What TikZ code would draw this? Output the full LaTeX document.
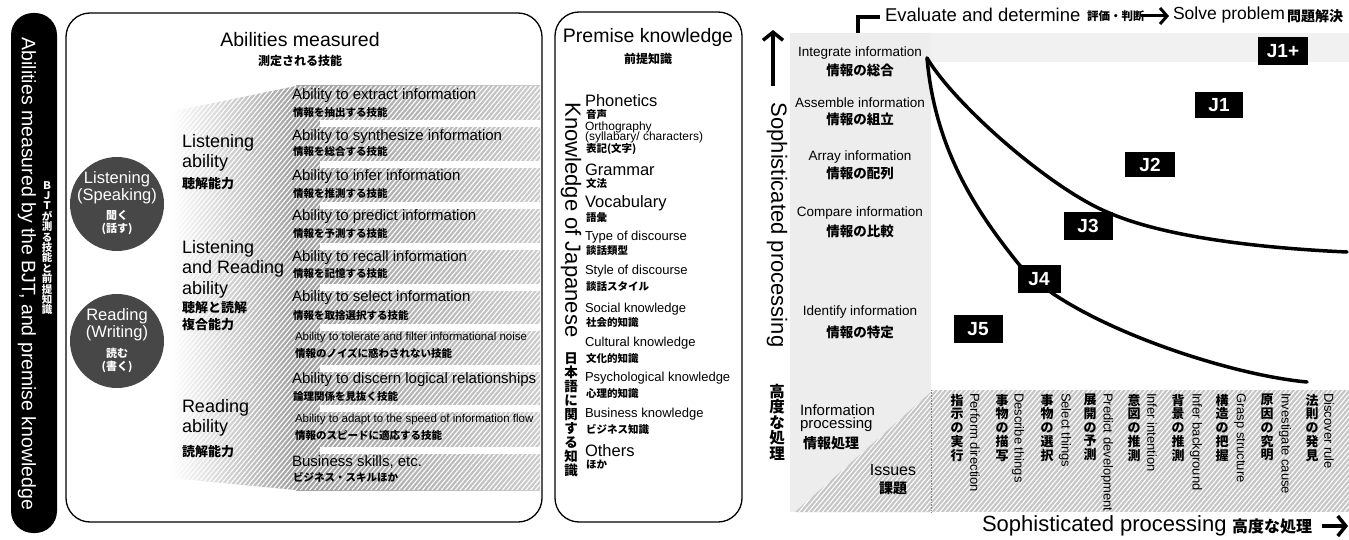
\documentclass[tikz,border=0pt]{standalone}
\usepackage{fontspec}
\setmainfont{Liberation Sans}
\newfontfamily\jp{Noto Sans CJK JP}
\usetikzlibrary{arrows.meta,patterns.meta}
\newcommand\fz[2]{\fontsize{#1}{#2}\selectfont}
\begin{document}
\begin{tikzpicture}[x=1pt,y=-1pt,
  every node/.style={inner sep=0pt,outer sep=0pt},
  boxline/.style={line width=1.3pt, rounded corners=24pt},
  abil/.style={anchor=west, font=\fz{15}{15}},
  abils/.style={anchor=west, font=\fz{11.5}{11.5}},
  abiljp/.style={anchor=west, font=\jp\bfseries\fz{10.5}{10.5}},
  cat/.style={anchor=west, font=\fz{18}{18}},
  catjp/.style={anchor=west, font=\jp\bfseries\fz{13}{13}},
  pbig/.style={anchor=west, font=\fz{16.5}{16.5}},
  pmid/.style={anchor=west, font=\fz{13}{13}},
  psm/.style={anchor=west, font=\fz{12}{12}},
  pjp/.style={anchor=west, font=\jp\bfseries\fz{10.5}{10.5}},
  rowen/.style={font=\fz{13.5}{13.5}},
  rowjp/.style={font=\jp\bfseries\fz{13.5}{13.5}},
  colen/.style={rotate=-90, anchor=west, font=\fz{13}{13}},
  coljp/.style={anchor=north, align=center, font=\jp\bfseries\fz{13}{13.8}},
  jbox/.style={fill=black, text=white, font=\bfseries\fz{19}{19}, minimum height=27pt, minimum width=48pt},
  curve/.style={line width=3.5pt, line cap=round},
  thickarrow/.style={line width=3.5pt, -{Straight Barb[length=8pt,width=20pt]}},
  hatch/.style={pattern={Lines[angle=50,distance=3.6pt,line width=1.1pt]}, pattern color=white},
  circ/.style={circle, fill=black!72, minimum size=94pt},
]
\useasboundingbox (0,0) rectangle (1349,540);
\fill[white] (0,0) rectangle (1349,540);

% ---------- left black bar ----------
\fill[black, rounded corners=22pt] (11,13) rectangle (57,533);
\node[rotate=-90, text=white, font=\fz{19.5}{20}] (bartext) at (27,274) {Abilities measured by the BJT, and premise knowledge};
\node[text=white, align=center, font=\jp\bfseries\fz{10.5}{10.4}] (barjp) at (47,248) {Ｂ\\Ｊ\\Ｔ\\が\\測\\る\\技\\能\\と\\前\\提\\知\\識};

% ---------- abilities box ----------
\draw[boxline] (66,13) rectangle (542,522);
\node[font=\fz{19.5}{20}] (abt) at (300,40) {Abilities measured};
\node[font=\jp\bfseries\fz{12}{12}] (abj) at (300,61) {測定される技能};

% hatched fan and bars
\shade[left color=white, right color=gray!75] (170,112) -- (296,86) -- (296,490) -- (170,478) -- cycle;
\shade[left color=gray!75, right color=gray!40] (296,86) rectangle (540,490);
\fill[hatch] (170,112) -- (296,86) -- (540,86) -- (540,490) -- (296,490) -- (170,478) -- cycle;
\foreach \g in {124,165,206,246,287,327,368,408,450}
  \fill[white] (320,\g-3.5) rectangle (541,\g+3.5);

% circles
\node[circ] (lcirc) at (117,204) {};
\node[text=white, align=center, font=\fz{16.5}{17}] (lcen) at (117,188) {Listening\\(Speaking)};
\node[text=white, align=center, font=\jp\bfseries\fz{11}{13}] (lcjp) at (117,223) {聞く\\(話す)};
\node[circ] (rcirc) at (117,341) {};
\node[text=white, align=center, font=\fz{16.5}{17}] (rcen) at (117,325) {Reading\\(Writing)};
\node[text=white, align=center, font=\jp\bfseries\fz{11}{13}] (rcjp) at (117,360) {読む\\(書く)};

% categories
\node[cat] (c1a) at (182,143) {Listening};
\node[cat] (c1b) at (182,163) {ability};
\node[catjp] (c1j) at (182,184) {聴解能力};
\node[cat] (c2a) at (182,249) {Listening};
\node[cat] (c2b) at (182,269) {and Reading};
\node[cat] (c2c) at (182,290) {ability};
\node[catjp] (c2j) at (182,308) {聴解と読解};
\node[catjp] (c2k) at (182,325) {複合能力};
\node[cat] (c3a) at (182,408) {Reading};
\node[cat] (c3b) at (182,428) {ability};
\node[catjp] (c3j) at (182,452) {読解能力};

% abilities
\node[abil] (a1) at (292,96) {Ability to extract information};
\node[abiljp] (a1j) at (293,112) {情報を抽出する技能};
\node[abil] (a2) at (292,137) {Ability to synthesize information};
\node[abiljp] (a2j) at (293,151) {情報を総合する技能};
\node[abil] (a3) at (292,177) {Ability to infer information};
\node[abiljp] (a3j) at (293,193) {情報を推測する技能};
\node[abil] (a4) at (292,217) {Ability to predict information};
\node[abiljp] (a4j) at (293,233) {情報を予測する技能};
\node[abil] (a5) at (292,258) {Ability to recall information};
\node[abiljp] (a5j) at (293,273) {情報を記憶する技能};
\node[abil] (a6) at (292,298) {Ability to select information};
\node[abiljp] (a6j) at (293,315) {情報を取捨選択する技能};
\node[abils] (a7) at (295,338) {Ability to tolerate and filter informational noise};
\node[abiljp] (a7j) at (295,353) {情報のノイズに惑わされない技能};
\node[abil] (a8) at (292,380) {Ability to discern logical relationships};
\node[abiljp] (a8j) at (293,397) {論理関係を見抜く技能};
\node[abils] (a9) at (295,420) {Ability to adapt to the speed of information flow};
\node[abiljp] (a9j) at (295,435) {情報のスピードに適応する技能};
\node[abil] (a10) at (292,462) {Business skills, etc.};
\node[abiljp] (a10j) at (293,477) {ビジネス・スキルほか};

% ---------- premise knowledge box ----------
\draw[boxline] (555,12) rectangle (742,522);
\node[font=\fz{19.5}{20}] (pkt) at (648,37) {Premise knowledge};
\node[font=\jp\bfseries\fz{12}{12}] (pkj) at (648,59) {前提知識};
\node[rotate=-90, font=\fz{22}{22}] (kojen) at (571,220) {Knowledge of Japanese};
\node[align=center, font=\jp\bfseries\fz{13.5}{14}] (kojjp) at (571,415) {日\\本\\語\\に\\関\\す\\る\\知\\識};

\node[pbig] (p1) at (585,101) {Phonetics};
\node[pjp] (p1j) at (586,115) {音声};
\node[psm] (p2) at (585,127) {Orthography};
\node[psm] (p2b) at (585,137) {(syllabary/ characters)};
\node[pjp] (p2j) at (586,149) {表記(文字)};
\node[pbig] (p3) at (585,170) {Grammar};
\node[pjp] (p3j) at (586,184) {文法};
\node[pbig] (p4) at (585,203) {Vocabulary};
\node[pjp] (p4j) at (586,218) {語彙};
\node[pmid] (p5) at (585,237) {Type of discourse};
\node[pjp] (p5j) at (586,251) {談話類型};
\node[pmid] (p6) at (585,271) {Style of discourse};
\node[pjp] (p6j) at (586,287) {談話スタイル};
\node[pmid] (p7) at (585,309) {Social knowledge};
\node[pjp] (p7j) at (586,323) {社会的知識};
\node[pmid] (p8) at (585,343) {Cultural knowledge};
\node[pjp] (p8j) at (586,359) {文化的知識};
\node[pmid] (p9) at (585,378) {Psychological knowledge};
\node[pjp] (p9j) at (586,394) {心理的知識};
\node[pmid] (p10) at (585,414) {Business knowledge};
\node[pjp] (p10j) at (586,429) {ビジネス知識};
\node[pbig] (p11) at (585,451) {Others};
\node[pjp] (p11j) at (586,465) {ほか};

% ---------- right chart ----------
\fill[gray!11] (790,33) rectangle (1349,62);
\fill[gray!14] (790,33) rectangle (931,512);
\fill[gray!45] (932,390) rectangle (1349,512);
\fill[gray!45] (931,392) -- (931,512) -- (795,512) -- cycle;
\fill[hatch] (932,390) rectangle (1349,512);
\fill[hatch] (931,392) -- (931,512) -- (795,512) -- cycle;
\draw[gray, densely dotted, line width=0.6pt] (931.5,390) -- (931.5,512);

% vertical axis
\coordinate (uatail) at (773,86);
\coordinate (uahead) at (773,30);
\draw[thickarrow] (uatail) -- (uahead);
\node[rotate=-90, font=\fz{22}{22}] (vaxis) at (777,225) {Sophisticated processing};
\node[align=center, font=\jp\bfseries\fz{15.5}{15.5}] (vaxjp) at (777,422) {高\\度\\な\\処\\理};

% top line
\coordinate (br1) at (858,33);
\coordinate (br2) at (858,17.5);
\coordinate (br3) at (880,17.5);
\draw[line width=4pt] (br1) -- (br2) -- (br3);
\node[anchor=west, font=\fz{18.5}{18.5}] (evd) at (885,15) {Evaluate and determine};
\node[anchor=west, font=\jp\bfseries\fz{11.5}{11.5}] (evj) at (1087,16.5) {評価・判断};
\coordinate (ta1) at (1141,16);
\coordinate (ta2) at (1169,16);
\draw[line width=3pt, -{Straight Barb[length=7pt,width=16pt]}] (ta1) -- (ta2);
\node[anchor=west, font=\fz{17.5}{17.5}] (solve) at (1173,15) {Solve problem};
\node[anchor=west, font=\jp\bfseries\fz{14}{14}] (solvej) at (1287,16.5) {問題解決};

% row labels
\node[rowen] (r1) at (860,53) {Integrate information};
\node[rowjp] (r1j) at (860,70) {情報の総合};
\node[rowen] (r2) at (860,103) {Assemble information};
\node[rowjp] (r2j) at (860,119) {情報の組立};
\node[rowen] (r3) at (860,157) {Array information};
\node[rowjp] (r3j) at (860,173) {情報の配列};
\node[rowen] (r4) at (860,213) {Compare information};
\node[rowjp] (r4j) at (860,231) {情報の比較};
\node[rowen] (r5) at (860,312) {Identify information};
\node[rowjp] (r5j) at (860,332) {情報の特定};
\node[anchor=west, font=\fz{15}{15}] (ip1) at (800,410) {Information};
\node[anchor=west, font=\fz{15}{15}] (ip2) at (800,425) {processing};
\node[anchor=west, font=\jp\bfseries\fz{14}{14}] (ipj) at (803,443) {情報処理};
\node[font=\fz{16}{16}] (iss) at (893,470) {Issues};
\node[font=\jp\bfseries\fz{14}{14}] (issj) at (893,488) {課題};

% curves
\coordinate (cs) at (927,58);
\coordinate (cu1) at (1107,212);
\coordinate (cu2) at (1347,252);
\coordinate (cl1) at (1017,262);
\coordinate (cl2) at (1307,382);
\draw[curve] (cs) .. controls (955,105) and (1050,188) .. (cu1)
                 .. controls (1170,240) and (1280,249) .. (cu2);
\draw[curve] (cs) .. controls (935,150) and (977,212) .. (cl1)
                 .. controls (1060,318) and (1220,374) .. (cl2);

% level boxes
\node[jbox, minimum width=50pt, minimum height=28pt] (j1p) at (1283,51) {J1+};
\node[jbox, minimum height=26pt] (j1) at (1219,105) {J1};
\node[jbox, minimum width=50pt, minimum height=25pt] (j2) at (1150,165) {J2};
\node[jbox, minimum width=49pt, minimum height=28pt] (j3) at (1088,226) {J3};
\node[jbox, minimum width=43pt, minimum height=28pt] (j4) at (1039,279) {J4};
\node[jbox, minimum width=49pt, minimum height=28pt] (j5) at (978,329) {J5};

% column labels
\node[coljp] (k1j) at (957,394) {指\\示\\の\\実\\行};
\node[colen] (k1) at (975,393) {Perform direction};
\node[coljp] (k2j) at (1002,394) {事\\物\\の\\描\\写};
\node[colen] (k2) at (1018,393) {Describe things};
\node[coljp] (k3j) at (1047,394) {事\\物\\の\\選\\択};
\node[colen] (k3) at (1065,393) {Select things};
\node[coljp] (k4j) at (1090,394) {展\\開\\の\\予\\測};
\node[colen] (k4) at (1107,393) {Predict development};
\node[coljp] (k5j) at (1134,394) {意\\図\\の\\推\\測};
\node[colen] (k5) at (1152,393) {Infer intention};
\node[coljp] (k6j) at (1178,394) {背\\景\\の\\推\\測};
\node[colen] (k6) at (1196,393) {Infer background};
\node[coljp] (k7j) at (1222,394) {構\\造\\の\\把\\握};
\node[colen] (k7) at (1240,393) {Grasp structure};
\node[coljp] (k8j) at (1267,394) {原\\因\\の\\究\\明};
\node[colen] (k8) at (1285,393) {Investigate cause};
\node[coljp] (k9j) at (1312,394) {法\\則\\の\\発\\見};
\node[colen] (k9) at (1329,393) {Discover rule};

% bottom axis
\node[anchor=west, font=\fz{22}{22}] (haxis) at (982,526) {Sophisticated processing};
\node[anchor=west, font=\jp\bfseries\fz{16}{16}] (haxj) at (1232,526) {高度な処理};
\coordinate (ba1) at (1322,526);
\coordinate (ba2) at (1348,526);
\draw[thickarrow] (ba1) -- (ba2);
\end{tikzpicture}
\end{document}
